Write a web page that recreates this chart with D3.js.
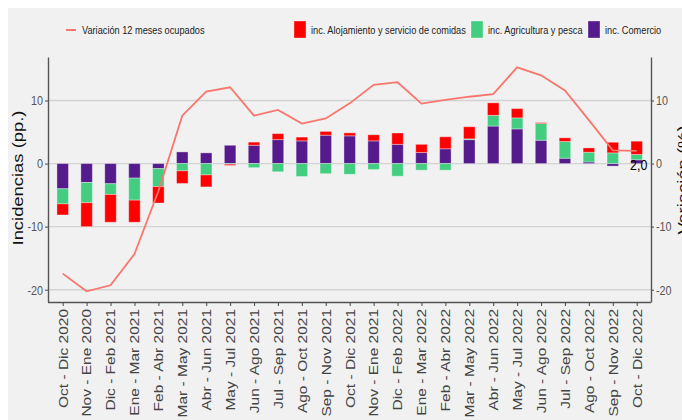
<!DOCTYPE html>
<html><head><meta charset="utf-8">
<script src="https://cdn.jsdelivr.net/npm/d3@7"></script>
<style>body{margin:0;background:#fff}svg{display:block}</style>
</head><body><svg id="c" width="682" height="420"></svg>
<script>
const categories = ["Oct - Dic 2020","Nov - Ene 2020","Dic - Feb 2021","Ene - Mar 2021","Feb - Abr 2021","Mar - May 2021","Abr - Jun 2021","May - Jul 2021","Jun - Ago 2021","Jul - Sep 2021","Ago - Oct 2021","Sep - Nov 2021","Oct - Dic 2021","Nov - Ene 2021","Dic - Feb 2022","Ene - Mar 2022","Feb - Abr 2022","Mar - May 2022","Abr - Jun 2022","May - Jul 2022","Jun - Ago 2022","Jul - Sep 2022","Ago - Oct 2022","Sep - Nov 2022","Oct - Dic 2022"];
const comercio    = [-4.0,-3.0,-3.2,-2.3,-0.8,1.85,1.7,2.9,2.9,3.8,3.6,4.5,4.4,3.6,3.05,1.75,2.35,3.8,5.95,5.5,3.7,0.85,0.25,-0.4,0.6];
const agricultura = [-2.4,-3.2,-1.7,-3.5,-2.85,-1.15,-1.8,-0.1,-0.65,-1.3,-2.05,-1.6,-1.7,-0.95,-2.0,-1.05,-1.05,0.12,1.7,1.75,2.65,2.65,1.55,1.7,0.85];
const alojamiento = [-1.75,-3.8,-4.4,-3.5,-2.6,-2.0,-1.9,-0.2,0.5,0.95,0.6,0.6,0.47,0.97,1.8,1.3,1.9,1.92,1.98,1.47,0.15,0.58,0.68,1.68,2.1];
const variacion   = [-17.45,-20.25,-19.3,-14.35,-4.4,7.6,11.4,12.1,7.6,8.5,6.35,7.15,9.55,12.5,12.9,9.5,10.1,10.6,11.0,15.25,14.0,11.6,6.9,2.1,2.0];
const yTicks = [-20,-10,0,10];
const seriesKeys = ["Comercio","Agricultura","Alojamiento"];
const seriesColors = {Comercio:"#551A8B", Agricultura:"#43CD80", Alojamiento:"#FF0000"};
const lineColor = "#F8766D";
const legendItems = [
  {type:"line", label:"Variación 12 meses ocupados", x:66},
  {type:"box", key:"Alojamiento", label:"inc. Alojamiento y servicio de comidas", x:294},
  {type:"box", key:"Agricultura", label:"inc. Agricultura y pesca", x:471},
  {type:"box", key:"Comercio", label:"inc. Comercio", x:588}
];

const W=682,H=420, SX=0.8;
const FONT='"Liberation Sans", Arial, sans-serif';
const svg=d3.select('#c').style('font-family',FONT);
svg.append('rect').attr('x',8).attr('y',8).attr('width',W-8).attr('height',H-8).attr('fill','#f1f1f1');

const L=48,R=651,T=57,B=302;
const x=d3.scalePoint().domain(categories).range([62.7,636.7]);
const y=d3.scaleLinear().domain([-21.95,16.9]).range([B,T]);
const yR=y.copy();

// grid
svg.append('g').selectAll('line').data(yTicks).join('line')
  .attr('x1',L).attr('x2',R).attr('y1',d=>y(d)).attr('y2',d=>y(d))
  .attr('stroke','#d3d3d3').attr('stroke-width',1.4);

// stacked bars
const rows=categories.map((c,i)=>({cat:c,Comercio:comercio[i],Agricultura:agricultura[i],Alojamiento:alojamiento[i]}));
const stack=d3.stack().keys(seriesKeys).offset(d3.stackOffsetDiverging)(rows);
const bw=11.5;
svg.append('g').selectAll('g').data(stack).join('g')
  .attr('fill',d=>seriesColors[d.key])
  .selectAll('rect').data(d=>d).join('rect')
  .attr('x',d=>x(d.data.cat)-bw/2).attr('width',bw)
  .attr('y',d=>y(Math.max(d[0],d[1]))).attr('height',d=>Math.abs(y(d[0])-y(d[1])))
  .attr('stroke','rgba(255,255,255,0.35)').attr('stroke-width',1);

// line
svg.append('path').datum(variacion)
  .attr('d',d3.line().x((d,i)=>x(categories[i])).y(d=>yR(d)))
  .attr('fill','none').attr('stroke',lineColor).attr('stroke-width',1.8);

// label of last value
const lastV=variacion[variacion.length-1];
svg.append('text').text(lastV.toFixed(1).replace('.',','))
  .attr('transform',`translate(${x(categories[categories.length-1])+2},170) scale(${SX},1)`)
  .attr('text-anchor','middle').attr('font-size',15.5).attr('fill','#000');

// axes
const axisColor='#555';
const gl=svg.append('g').attr('transform',`translate(${L},0)`)
  .call(d3.axisLeft(y).tickValues(yTicks).tickSize(3).tickSizeOuter(0).tickFormat(d=>String(d)));
const gr=svg.append('g').attr('transform',`translate(${R},0)`)
  .call(d3.axisRight(yR).tickValues(yTicks).tickSize(3).tickSizeOuter(0).tickFormat(d=>String(d)));
const gb=svg.append('g').attr('transform',`translate(0,${B})`)
  .call(d3.axisBottom(x).tickSize(4).tickSizeOuter(0));
gb.select('.domain').attr('d',`M${L},0.5H${R}`);
[gl,gr,gb].forEach(g=>{
  g.select('.domain').attr('stroke',axisColor).attr('stroke-width',1.4);
  g.selectAll('.tick line').attr('stroke',axisColor).attr('stroke-width',1.1);
  g.selectAll('text').attr('font-family',FONT);
});
gl.selectAll('.tick text').attr('x',0).attr('transform',`translate(-5,0) scale(${SX},1)`)
  .attr('font-size',13.5).attr('fill','#555');
gr.selectAll('.tick text').attr('x',0).attr('transform',`translate(5,0) scale(${SX},1)`)
  .attr('font-size',13.5).attr('fill','#555');
gb.selectAll('.tick text').attr('x',0).attr('y',0).attr('dy','0.35em')
  .attr('text-anchor','end').attr('transform',`translate(0,7) scale(${SX},1) rotate(-90)`)
  .attr('font-size',15.5).attr('fill','#444');

// titles
svg.append('text').text('Incidencias (pp.)')
  .attr('transform',`translate(23,178) scale(${SX},1) rotate(-90)`)
  .attr('text-anchor','middle').attr('font-size',18.4).attr('fill','#111');
svg.append('text').text('Variación (%)')
  .attr('transform',`translate(688,180) scale(${SX},1) rotate(-90)`)
  .attr('text-anchor','middle').attr('font-size',18.4).attr('fill','#111');

// legend
const lg=svg.append('g');
legendItems.forEach(it=>{
  let tx;
  if(it.type==='line'){
    lg.append('line').attr('x1',it.x).attr('x2',it.x+10).attr('y1',30).attr('y2',30)
      .attr('stroke',lineColor).attr('stroke-width',2);
    tx=it.x+16;
  } else {
    lg.append('rect').attr('x',it.x).attr('y',21).attr('width',12).attr('height',17)
      .attr('fill',seriesColors[it.key]).attr('stroke','rgba(255,255,255,0.35)');
    tx=it.x+17;
  }
  lg.append('text').text(it.label).attr('transform',`translate(${tx},34) scale(${SX},1)`)
    .attr('font-size',11.5).attr('fill','#222');
});
</script></body></html>
